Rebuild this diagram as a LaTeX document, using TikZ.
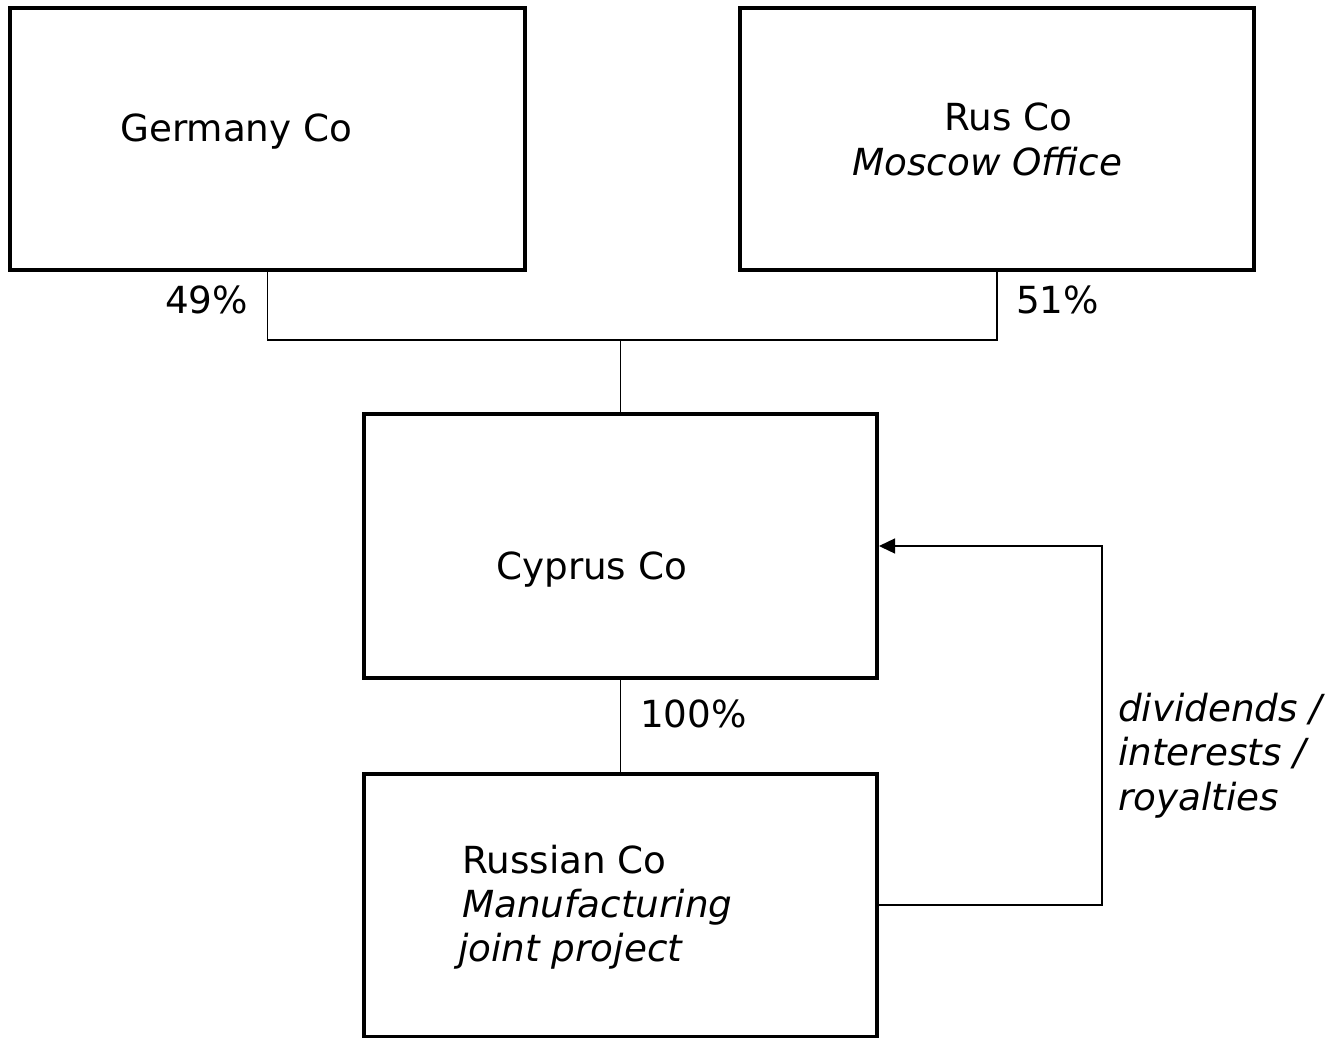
\documentclass[tikz,border=0pt]{standalone}
\usepackage{fontspec}
\setmainfont{DejaVu Sans}
\usetikzlibrary{arrows.meta}
\begin{document}
\begin{tikzpicture}[x=1pt,y=-1pt,
  box/.style={draw, line width=4pt, rectangle, inner sep=0pt},
  lbl/.style={anchor=base west, inner sep=0pt, font=\fontsize{37.3}{44}\selectfont},
  ilbl/.style={lbl, font=\fontsize{37.3}{44}\selectfont\itshape},
  link/.style={line width=1.4pt}]
\useasboundingbox (0,0) rectangle (1327,1038);
% company boxes
\node[box, minimum width=515, minimum height=262] (ger) at (267.5,139) {};
\node[box, minimum width=514, minimum height=262] (rus) at (997,139) {};
\node[box, minimum width=513, minimum height=264] (cyp) at (620.5,546) {};
\node[box, minimum width=513, minimum height=263] (rusco) at (620.5,905.5) {};
% box texts
\node[lbl] (tger) at (120,142) {Germany Co};
\node[lbl] (trus) at (944,131) {Rus Co};
\node[ilbl] (tmos) at (852,175) {Moscow Office};
\node[lbl] (tcyp) at (496,579) {Cyprus Co};
\node[lbl] (tru1) at (462,873) {Russian Co};
\node[ilbl] (tru2) at (462,917) {Manufacturing};
\node[ilbl] (tru3) at (458,961) {joint project};
% shareholding lines
\coordinate (join) at (620.5,340);
\draw[link] (ger.south) |- (join) -| (rus.south);
\draw[link] (join) -- (cyp.north);
\draw[link] (cyp.south) -- (rusco.north);
% percentages
\node[lbl] (p49) at (165,313) {49\%};
\node[lbl] (p51) at (1016,313) {51\%};
\node[lbl] (p100) at (640,727) {100\%};
% payment flow
\coordinate (turn) at (1102,905);
\draw[link, -{Triangle[length=16pt,width=15pt]}] (rusco.east |- turn) -- (turn) |- (cyp.east);
\node[ilbl] (f1) at (1118,721) {dividends /};
\node[ilbl] (f2) at (1118,765) {interests /};
\node[ilbl] (f3) at (1118,810) {royalties};
\end{tikzpicture}
\end{document}
